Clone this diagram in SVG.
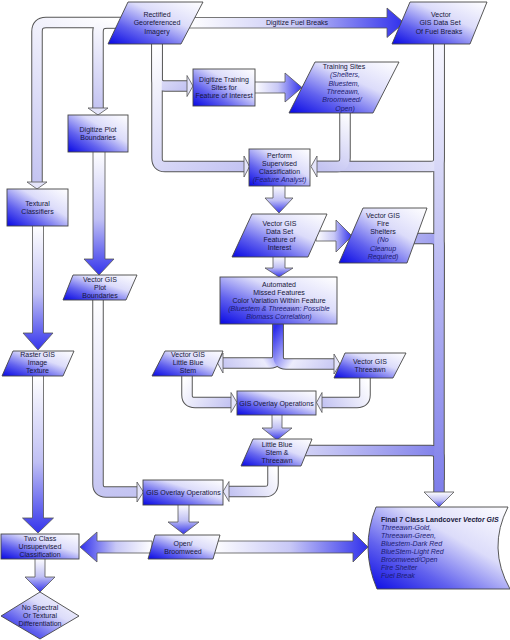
<svg xmlns="http://www.w3.org/2000/svg" xmlns:xlink="http://www.w3.org/1999/xlink" width="510" height="640" viewBox="0 0 510 640">
<defs>
<style>
.n{fill:url(#nf);stroke:#454545;stroke-width:0.9}
.t{font-family:"Liberation Sans",Arial,sans-serif;font-size:7px;fill:#17173a;text-anchor:middle}
.i{font-style:italic;fill:#1c1c70}
.l{text-anchor:start}
.b{font-weight:bold}
.po{fill:none;stroke:#555;stroke-width:11.5}
.pf{fill:none;stroke-width:9.5}
.ph{fill:#e4e4fa;stroke:#555;stroke-width:0.8}
.hb{fill:url(#gd);stroke:#555;stroke-width:0.8}
.bd{fill:url(#gd);stroke:#555;stroke-width:0.8}
.br{fill:url(#gr);stroke:#555;stroke-width:0.8}
.bl{fill:url(#gl);stroke:#555;stroke-width:0.8}
</style>
<linearGradient id="nf" x1="0" y1="1" x2="1" y2="0">
<stop offset="0" stop-color="#0808e4"/><stop offset="0.3" stop-color="#6262ee"/><stop offset="0.62" stop-color="#dcdcfa"/><stop offset="1" stop-color="#ffffff"/>
</linearGradient>
<linearGradient id="gd" x1="0" y1="0" x2="0" y2="1">
<stop offset="0" stop-color="#ffffff"/><stop offset="0.55" stop-color="#c0c0f4"/><stop offset="1" stop-color="#3434ec"/>
</linearGradient>
<linearGradient id="gr" x1="0" y1="0" x2="1" y2="0">
<stop offset="0" stop-color="#ffffff"/><stop offset="0.5" stop-color="#c8c8f6"/><stop offset="1" stop-color="#3030ec"/>
</linearGradient>
<linearGradient id="gl" x1="1" y1="0" x2="0" y2="0">
<stop offset="0" stop-color="#ffffff"/><stop offset="0.5" stop-color="#c8c8f6"/><stop offset="1" stop-color="#3030ec"/>
</linearGradient>
<linearGradient id="pg" gradientUnits="userSpaceOnUse">
<stop offset="0" stop-color="#ffffff"/><stop offset="1" stop-color="#c4c4f2"/>
</linearGradient>
<linearGradient id="pg2" gradientUnits="userSpaceOnUse">
<stop offset="0" stop-color="#f6f6ff"/><stop offset="0.3" stop-color="#d4d4f6"/><stop offset="1" stop-color="#7e7eea"/>
</linearGradient>
<linearGradient id="pg3" gradientUnits="userSpaceOnUse">
<stop offset="0" stop-color="#2c2cec"/><stop offset="0.45" stop-color="#ececfc"/><stop offset="1" stop-color="#c4c4f2"/>
</linearGradient>
<linearGradient id="g2" xlink:href="#pg" x1="125" y1="22" x2="37" y2="182"/>
<linearGradient id="g3" xlink:href="#pg" x1="125" y1="23" x2="98" y2="108"/>
<linearGradient id="g4" xlink:href="#pg" x1="157" y1="44" x2="188" y2="86"/>
<linearGradient id="g5" xlink:href="#pg" x1="157" y1="44" x2="244" y2="166"/>
<linearGradient id="g7" xlink:href="#pg" x1="345" y1="110" x2="317" y2="166"/>
<linearGradient id="g8" xlink:href="#pg" x1="439" y1="44" x2="317" y2="166"/>
<linearGradient id="g27" xlink:href="#pg2" x1="439" y1="44" x2="439" y2="492"/>
<linearGradient id="g11" xlink:href="#pg2" x1="300" y1="238" x2="439" y2="320"/>
<linearGradient id="g17" xlink:href="#pg2" x1="240" y1="450" x2="439" y2="480"/>
<linearGradient id="g13a" xlink:href="#pg3" x1="278" y1="324" x2="218" y2="363"/>
<linearGradient id="g13b" xlink:href="#pg3" x1="278" y1="324" x2="340" y2="364"/>
<linearGradient id="g14" xlink:href="#pg" x1="187" y1="374" x2="231" y2="402"/>
<linearGradient id="g15" xlink:href="#pg" x1="365" y1="376" x2="322" y2="402"/>
<linearGradient id="g18" xlink:href="#pg" x1="273" y1="464" x2="230" y2="491"/>
<linearGradient id="g19" xlink:href="#pg" x1="98" y1="298" x2="137" y2="492"/>
<path id="p2" d="M125,22.5 H46 Q37,22.5 37,31.5 V182"/>
<path id="p3" d="M125,23 H107 Q98,23 98,32 V108"/>
<path id="p4" d="M157,40 V78 Q157,86 165,86 H188"/>
<path id="p5" d="M157,40 V158 Q157,166.5 165,166.5 H245"/>
<path id="p7" d="M345,110 V158 Q345,166.5 337,166.5 H316"/>
<path id="p8" d="M439,40 V158 Q439,166.5 431,166.5 H316"/>
<path id="p27" d="M439,40 V492"/>
<path id="p11" d="M410,238.5 H431 Q439,238.5 439,246 V300"/>
<path id="p17" d="M300,450.5 H431 Q439,450.5 439,458 V480"/>
<path id="p13a" d="M278,322 V355 Q278,363 270,363 H223"/>
<path id="p13b" d="M278,322 V356 Q278,364 286,364 H334"/>
<path id="p14" d="M187,374 V395 Q187,402.5 195,402.5 H231"/>
<path id="p15" d="M365,376 V395 Q365,402.5 357,402.5 H322"/>
<path id="p18" d="M273,464 V483 Q273,491.5 265,491.5 H229"/>
<path id="p19" d="M98,298 V484 Q98,492 106,492 H137"/>
</defs>
<rect width="510" height="640" fill="#ffffff"/>
<g id="connectors">
<g id="pipe-outlines" class="po">
<use xlink:href="#p2"/><use xlink:href="#p3"/><use xlink:href="#p4"/><use xlink:href="#p5"/>
<use xlink:href="#p7"/><use xlink:href="#p8"/><use xlink:href="#p27"/><use xlink:href="#p11"/>
<use xlink:href="#p17"/><use xlink:href="#p13a"/><use xlink:href="#p13b"/><use xlink:href="#p14"/>
<use xlink:href="#p15"/><use xlink:href="#p18"/><use xlink:href="#p19"/>
</g>
<g id="pipe-fills" class="pf">
<use xlink:href="#p2" stroke="url(#g2)"/><use xlink:href="#p3" stroke="url(#g3)"/>
<use xlink:href="#p4" stroke="url(#g4)"/><use xlink:href="#p5" stroke="url(#g5)"/>
<use xlink:href="#p8" stroke="url(#g8)"/><use xlink:href="#p7" stroke="url(#g7)"/>
<use xlink:href="#p11" stroke="url(#g11)"/><use xlink:href="#p17" stroke="url(#g17)"/>
<use xlink:href="#p27" stroke="url(#g27)"/>
<use xlink:href="#p13a" stroke="url(#g13a)"/>
<use xlink:href="#p13b" stroke="url(#g13b)"/><use xlink:href="#p14" stroke="url(#g14)"/>
<use xlink:href="#p15" stroke="url(#g15)"/><use xlink:href="#p18" stroke="url(#g18)"/>
<use xlink:href="#p19" stroke="url(#g19)"/>
</g>
<g id="pipe-heads" class="ph">
<polygon points="27,182 47,182 37,189"/>
<polygon points="88,108 108,108 98,115"/>
<polygon points="187,75.5 187,96.5 193,86"/>
<polygon points="244,156 244,177 249.5,166.5"/>
<polygon points="317,156 317,177 311,166.5"/>
<polygon points="223,353 223,373 217.5,363"/>
<polygon points="334,354 334,374 340,364"/>
<polygon points="231,392.5 231,412.5 237,402.5"/>
<polygon points="322,392.5 322,412.5 316.5,402.5"/>
<polygon points="229,481.5 229,501.5 223,491.5"/>
<polygon points="137,482 137,502 143.5,492"/>
</g>
<polygon class="hb" points="424,492 454,492 439,507"/>
<g id="block-arrows">
<polygon class="br" points="188,17.5 387,17.5 387,8 404,22.75 387,37.5 387,28 188,28"/>
<text class="t" x="297" y="25">Digitize Fuel Breaks</text>
<polygon class="br" points="254,82 285,82 285,73 302,87.5 285,102 285,93 254,93"/>
<polygon class="bd" points="273,185 285,185 285,198 293,198 279,213 265,198 273,198"/>
<polygon class="br" points="316,231 336,231 336,220 352,236 336,252 336,241 316,241"/>
<polygon class="bd" points="273,256 285,256 285,268 293,268 279,277 265,268 273,268"/>
<polygon class="bd" points="272,414 282,414 282,428 292,428 277,440 262,428 272,428"/>
<polygon class="bd" points="93,151 105,151 105,259 114,259 99,275 84,259 93,259"/>
<polygon class="bd" points="32.5,225 43.5,225 43.5,333 53,333 38,350 23,333 32.5,333"/>
<polygon class="bd" points="32.5,375 43.5,375 43.5,518 53.5,518 38,533 22.5,518 32.5,518"/>
<polygon class="bd" points="178,504 189,504 189,522 199,522 183.5,534 168,522 178,522"/>
<polygon class="bl" points="152,541 97,541 97,532 80,547 97,562 97,553 152,553"/>
<polygon class="br" points="212,541 353,541 353,532 368,547 353,562 353,553 212,553"/>
<polygon class="bd" points="35,558 45,558 45,577 55,577 40,592 25,577 35,577"/>
</g>
</g>
<g id="n-rectified">
<polygon class="n" points="128,2 203,2 181,44 108,44"/>
<text class="t"><tspan x="157" y="16.5">Rectified</tspan><tspan x="157" y="25">Georeferenced</tspan><tspan x="157" y="33.5">Imagery</tspan></text>
</g>
<g id="n-fuelbreaks">
<polygon class="n" points="410,2 487,2 470,44 392,44"/>
<text class="t"><tspan x="441" y="16.5">Vector</tspan><tspan x="440" y="25">GIS Data Set</tspan><tspan x="439" y="33.5">Of Fuel Breaks</tspan></text>
</g>
<g id="n-digtrain">
<rect class="n" x="193" y="69" width="62" height="37"/>
<text class="t"><tspan x="224" y="81.5">Digitize Training</tspan><tspan x="224" y="89.5">Sites for</tspan><tspan x="224" y="97.5">Feature of Interest</tspan></text>
</g>
<g id="n-trainsites">
<polygon class="n" points="315,62 399,62 373,113 289,113"/>
<text class="t"><tspan x="344" y="69">Training Sites</tspan><tspan class="i" x="345" y="77.3">(Shelters,</tspan><tspan class="i" x="344" y="85.6">Bluestem,</tspan><tspan class="i" x="343" y="93.9">Threeawn,</tspan><tspan class="i" x="342" y="102.2">Broomweed/</tspan><tspan class="i" x="345" y="110.5">Open)</tspan></text>
</g>
<g id="n-digplot">
<rect class="n" x="68" y="115" width="60" height="37"/>
<text class="t"><tspan x="98" y="131.5">Digitize Plot</tspan><tspan x="98" y="139.5">Boundaries</tspan></text>
</g>
<g id="n-textural">
<rect class="n" x="7" y="189" width="61" height="37"/>
<text class="t"><tspan x="37.5" y="205.5">Textural</tspan><tspan x="37.5" y="213.5">Classifiers</tspan></text>
</g>
<g id="n-supervised">
<rect class="n" x="249" y="149" width="61" height="37"/>
<text class="t"><tspan x="279.5" y="157.5">Perform</tspan><tspan x="279.5" y="165.5">Supervised</tspan><tspan x="279.5" y="173.5">Classification</tspan><tspan class="i" x="279.5" y="181.5">(Feature Analyst)</tspan></text>
</g>
<g id="n-feature">
<polygon class="n" points="252,214 327,214 308,257 232,257"/>
<text class="t"><tspan x="279.5" y="225.5">Vector GIS</tspan><tspan x="279.5" y="234">Data Set</tspan><tspan x="279.5" y="241.5">Feature of</tspan><tspan x="279.5" y="249.5">Interest</tspan></text>
</g>
<g id="n-fireshelters">
<polygon class="n" points="363,208 427,208 407,263 339,263"/>
<text class="t"><tspan x="383" y="217.5">Vector GIS</tspan><tspan x="383" y="225.8">Fire</tspan><tspan x="383" y="234.1">Shelters</tspan><tspan class="i" x="383" y="242.4">(No</tspan><tspan class="i" x="383" y="250.7">Cleanup</tspan><tspan class="i" x="383" y="259">Required)</tspan></text>
</g>
<g id="n-automated">
<rect class="n" x="220" y="277" width="117" height="47"/>
<text class="t"><tspan x="279" y="286.5">Automated</tspan><tspan x="279" y="294.5">Missed Features</tspan><tspan x="279" y="302.5">Color Variation Within Feature</tspan><tspan class="i" x="279" y="310.5">(Bluestem &amp; Threeawn:  Possible</tspan><tspan class="i" x="279" y="318.5">Biomass Correlation)</tspan></text>
</g>
<g id="n-plotbound">
<polygon class="n" points="73,275 137,275 126,300 63,300"/>
<text class="t"><tspan x="100" y="281.5">Vector GIS</tspan><tspan x="100" y="289.5">Plot</tspan><tspan x="100" y="297.5">Boundaries</tspan></text>
</g>
<g id="n-raster">
<polygon class="n" points="13,351 74,351 63,376 2,376"/>
<text class="t"><tspan x="37.5" y="356.5">Raster GIS</tspan><tspan x="37.5" y="365">Image</tspan><tspan x="37.5" y="373">Texture</tspan></text>
</g>
<g id="n-littleblue">
<polygon class="n" points="165,351 223,351 212,376 152,376"/>
<text class="t"><tspan x="188" y="356.5">Vector GIS</tspan><tspan x="188" y="365">Little Blue</tspan><tspan x="188" y="373">Stem</tspan></text>
</g>
<g id="n-threeawn">
<polygon class="n" points="345,353 406,353 393,378 334,378"/>
<text class="t"><tspan x="370" y="363.5">Vector GIS</tspan><tspan x="370" y="372">Threeawn</tspan></text>
</g>
<g id="n-overlay1">
<rect class="n" x="237" y="391" width="79" height="24"/>
<text class="t" x="276.5" y="405.5">GIS Overlay Operations</text>
</g>
<g id="n-lbs-threeawn">
<polygon class="n" points="253,439 312,439 301,466 241,466"/>
<text class="t"><tspan x="277" y="446.5">Little Blue</tspan><tspan x="277" y="455">Stem &amp;</tspan><tspan x="277" y="463">Threeawn</tspan></text>
</g>
<g id="n-overlay2">
<rect class="n" x="143" y="480" width="80" height="25"/>
<text class="t" x="183.5" y="494.5">GIS Overlay Operations</text>
</g>
<g id="n-openbroom">
<polygon class="n" points="155,535 220,535 213,559 148,559"/>
<text class="t"><tspan x="183" y="545.5">Open/</tspan><tspan x="183" y="553.5">Broomweed</tspan></text>
</g>
<g id="n-twoclass">
<rect class="n" x="1" y="534" width="78" height="25"/>
<text class="t"><tspan x="40" y="540.5">Two Class</tspan><tspan x="40" y="549">Unsupervised</tspan><tspan x="40" y="557">Classification</tspan></text>
</g>
<g id="n-nospectral">
<polygon class="n" points="40,592 79,616 40,639 1,616"/>
<text class="t"><tspan x="40" y="609.5">No Spectral</tspan><tspan x="40" y="617.5">Or Textural</tspan><tspan x="40" y="625.5">Differentiation</tspan></text>
</g>
<g id="n-final">
<path class="n" d="M376,507 H508 Q487,548 510,589 H377 Q359.5,548 376,507 Z"/>
<text class="t l b" x="381" y="521.5">Final 7 Class Landcover <tspan font-style="italic">Vector GIS</tspan></text>
<text class="t l i"><tspan x="381" y="529.6">Threeawn-Gold,</tspan><tspan x="381" y="537.7">Threeawn-Green,</tspan><tspan x="381" y="545.8">Bluestem-Dark Red</tspan><tspan x="381" y="553.9">BlueStem-Light Red</tspan><tspan x="381" y="562">Broomweed/Open</tspan><tspan x="381" y="570.1">Fire Shelter</tspan><tspan x="381" y="578.2">Fuel Break</tspan></text>
</g>
</svg>
